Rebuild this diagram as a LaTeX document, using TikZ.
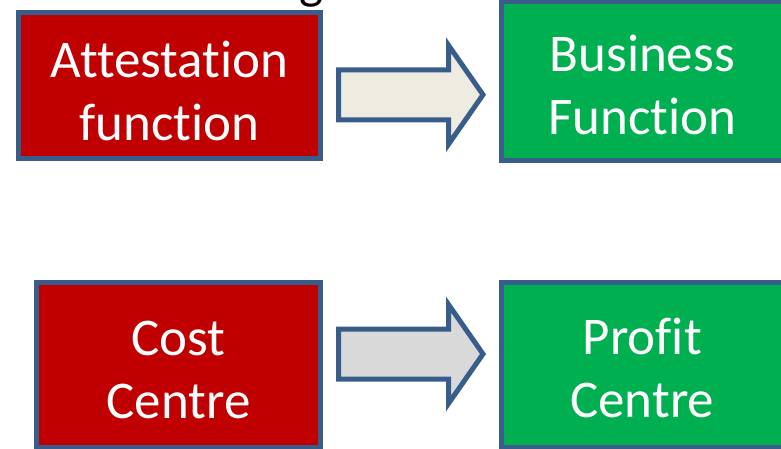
\documentclass[tikz,border=0pt]{standalone}
\usepackage{fontspec}
\setmainfont{Carlito}[Ligatures={NoCommon}]
\usetikzlibrary{positioning}
\definecolor{costColor}{HTML}{C00000}
\definecolor{profitColor}{HTML}{00B050}
\definecolor{edgeColor}{HTML}{385D8A}
\definecolor{pushColor}{HTML}{EEECE1}
\definecolor{pushGrey}{HTML}{D9D9D9}
\tikzset{
	fn box/.style={draw=edgeColor, line width=5pt, outer sep=0, inner sep=0},
	fn text/.style={text=white, font=\fontsize{53}{63}\selectfont, align=center, inner sep=0},
	pics/push arrow/.style={code={
			\draw[edgeColor, line width=5pt, fill=#1] (0,-25) -- (110,-25) -- (110,-49.5) -- (144.5,0)
			-- (110,49.5) -- (110,25) -- (0,25) -- cycle;}},
	pics/push arrow/.default=pushColor
}

\begin{document}
\begin{tikzpicture}[x=1pt, y=-1pt]
	\useasboundingbox (0,0) rectangle (781,448);
	% boxes
	\node[fn box, fill=costColor, minimum width=302pt, minimum height=146pt] (attest) at (169.5, 85.5) {};
	\node[fn box, fill=profitColor, minimum width=281.5pt, minimum height=159pt] (business) at (642.25, 81) {};
	\node[fn box, fill=costColor, minimum width=284pt, minimum height=165pt] (cost) at (178.5, 365) {};
	\node[fn box, fill=profitColor, minimum width=281.5pt, minimum height=165pt] (profit) at (642.25, 365) {};
	
	\node[fn text] (attest txt) at ([yshift=-5pt]attest.center) {Attestation\\function};
	\node[fn text] (business txt) at ([yshift=-4pt]business.center) {Business\\Function};
	\node[fn text] (cost txt) at ([yshift=-5pt]cost.center) {Cost\\Centre};
	\node[fn text] (profit txt) at ([yshift=-3pt]profit.center) {Profit\\Centre};
	
	% block arrows
	\pic (top push) at (338.5, 94.75) {push arrow=pushColor};
	\pic (low push) at (338.5, 354) {push arrow=pushGrey};
	
	%\node at (311,-1.5) {g};
	\node[anchor=base, font=\fontsize{51}{63}\selectfont, inner sep=0] (title cut) at (311,-1.5) {g};
\end{tikzpicture}
\end{document}
